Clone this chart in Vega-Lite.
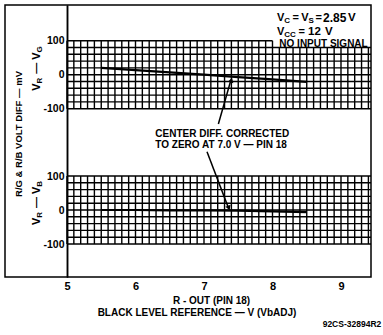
{
  "$schema": "https://vega.github.io/schema/vega-lite/v6.json",
  "width": 366,
  "height": 272,
  "autosize": {"type": "none"},
  "padding": {"left": 5, "top": 5, "right": 12, "bottom": 58},
  "background": "white",
  "data": {"values": [{"note": 1}]},
  "config": {
    "font": "Liberation Sans",
    "view": {"stroke": "#000", "strokeWidth": 1.5},
    "text": {"fontWeight": "bold", "color": "#000", "fontSize": 10, "baseline": "middle", "align": "left"}
  },
  "datasets": {
    "gridCols": [
      {"v": 5.0, "lo": -100, "top_rg": 100, "top_rb": 100}, {"v": 5.1, "lo": -100, "top_rg": 100, "top_rb": 100},
      {"v": 5.2, "lo": -100, "top_rg": 100, "top_rb": 100}, {"v": 5.3, "lo": -100, "top_rg": 100, "top_rb": 100},
      {"v": 5.4, "lo": -100, "top_rg": 100, "top_rb": 100}, {"v": 5.5, "lo": -100, "top_rg": 100, "top_rb": 100},
      {"v": 5.6, "lo": -100, "top_rg": 100, "top_rb": 100}, {"v": 5.7, "lo": -100, "top_rg": 100, "top_rb": 100},
      {"v": 5.8, "lo": -100, "top_rg": 100, "top_rb": 100}, {"v": 5.9, "lo": -100, "top_rg": 100, "top_rb": 100},
      {"v": 6.0, "lo": -100, "top_rg": 100, "top_rb": 100}, {"v": 6.1, "lo": -100, "top_rg": 100, "top_rb": 100},
      {"v": 6.2, "lo": -100, "top_rg": 100, "top_rb": 100}, {"v": 6.3, "lo": -100, "top_rg": 100, "top_rb": 100},
      {"v": 6.4, "lo": -100, "top_rg": 100, "top_rb": 100}, {"v": 6.5, "lo": -100, "top_rg": 100, "top_rb": 100},
      {"v": 6.6, "lo": -100, "top_rg": 100, "top_rb": 100}, {"v": 6.7, "lo": -100, "top_rg": 100, "top_rb": 100},
      {"v": 6.8, "lo": -100, "top_rg": 100, "top_rb": 100}, {"v": 6.9, "lo": -100, "top_rg": 100, "top_rb": 100},
      {"v": 7.0, "lo": -100, "top_rg": 100, "top_rb": 100}, {"v": 7.1, "lo": -100, "top_rg": 100, "top_rb": 100},
      {"v": 7.2, "lo": -100, "top_rg": 100, "top_rb": 100}, {"v": 7.3, "lo": -100, "top_rg": 100, "top_rb": 100},
      {"v": 7.4, "lo": -100, "top_rg": 100, "top_rb": 100}, {"v": 7.5, "lo": -100, "top_rg": 100, "top_rb": 100},
      {"v": 7.6, "lo": -100, "top_rg": 100, "top_rb": 100}, {"v": 7.7, "lo": -100, "top_rg": 100, "top_rb": 100},
      {"v": 7.8, "lo": -100, "top_rg": 100, "top_rb": 100}, {"v": 7.9, "lo": -100, "top_rg": 100, "top_rb": 100},
      {"v": 8.0, "lo": -100, "top_rg": 100, "top_rb": 100}, {"v": 8.1, "lo": -100, "top_rg": 80, "top_rb": 100},
      {"v": 8.2, "lo": -100, "top_rg": 80, "top_rb": 100}, {"v": 8.3, "lo": -100, "top_rg": 80, "top_rb": 100},
      {"v": 8.4, "lo": -100, "top_rg": 80, "top_rb": 100}, {"v": 8.5, "lo": -100, "top_rg": 80, "top_rb": 100},
      {"v": 8.6, "lo": -100, "top_rg": 80, "top_rb": 100}, {"v": 8.7, "lo": -100, "top_rg": 80, "top_rb": 100},
      {"v": 8.8, "lo": -100, "top_rg": 80, "top_rb": 100}, {"v": 8.9, "lo": -100, "top_rg": 80, "top_rb": 100},
      {"v": 9.0, "lo": -100, "top_rg": 80, "top_rb": 100}, {"v": 9.1, "lo": -100, "top_rg": 80, "top_rb": 100},
      {"v": 9.2, "lo": -100, "top_rg": 80, "top_rb": 100}, {"v": 9.3, "lo": -100, "top_rg": 80, "top_rb": 100},
      {"v": 9.4, "lo": -100, "top_rg": 80, "top_rb": 100}
    ],
    "gridRows": [
      {"mv": -100, "start": 5, "end_rg": 9.438, "end_rb": 9.438}, {"mv": -80, "start": 5, "end_rg": 9.438, "end_rb": 9.438},
      {"mv": -60, "start": 5, "end_rg": 9.438, "end_rb": 9.438}, {"mv": -40, "start": 5, "end_rg": 9.438, "end_rb": 9.438},
      {"mv": -20, "start": 5, "end_rg": 9.438, "end_rb": 9.438}, {"mv": 0, "start": 5, "end_rg": 9.438, "end_rb": 9.438},
      {"mv": 20, "start": 5, "end_rg": 9.438, "end_rb": 9.438}, {"mv": 40, "start": 5, "end_rg": 9.438, "end_rb": 9.438},
      {"mv": 60, "start": 5, "end_rg": 9.438, "end_rb": 9.438}, {"mv": 80, "start": 5, "end_rg": 9.438, "end_rb": 9.438},
      {"mv": 100, "start": 5, "end_rg": 8.0, "end_rb": 9.438}
    ],
    "curves": [
      {"panel": "VR-VG", "v": 5.5, "mv": 20}, {"panel": "VR-VG", "v": 6.0, "mv": 13.5}, {"panel": "VR-VG", "v": 6.5, "mv": 6.8},
      {"panel": "VR-VG", "v": 7.0, "mv": 0}, {"panel": "VR-VG", "v": 7.5, "mv": -7}, {"panel": "VR-VG", "v": 8.0, "mv": -14},
      {"panel": "VR-VG", "v": 8.5, "mv": -21},
      {"panel": "VR-VB", "v": 5.5, "mv": 0}, {"panel": "VR-VB", "v": 6.0, "mv": 0}, {"panel": "VR-VB", "v": 6.5, "mv": -1},
      {"panel": "VR-VB", "v": 7.0, "mv": -1}, {"panel": "VR-VB", "v": 7.5, "mv": -2}, {"panel": "VR-VB", "v": 8.0, "mv": -4},
      {"panel": "VR-VB", "v": 8.5, "mv": -6}
    ]
  },
  "layer": [
    {
      "layer": [
        {
          "data": {"name": "gridCols"},
          "mark": {"type": "rule", "color": "#000", "strokeWidth": 1.4},
          "encoding": {
            "x": {
              "field": "v", "type": "quantitative",
              "scale": {"domain": [4.095, 9.438], "nice": false, "zero": false},
              "axis": {
                "values": [5, 6, 7, 8, 9], "format": "d", "ticks": false, "domain": false, "grid": false,
                "labelFontSize": 11, "labelFontWeight": "bold", "labelColor": "#000", "labelPadding": 3, "labelFlush": false,
                "title": "R - OUT (PIN 18)", "titleX": 206, "titleY": 23, "titleAlign": "center", "titleBaseline": "middle",
                "titleFontSize": 10, "titleFontWeight": "bold", "titleColor": "#000"
              }
            },
            "y": {
              "field": "lo", "type": "quantitative",
              "scale": {"domain": [-595, 205], "nice": false, "zero": false},
              "axis": {
                "orient": "left", "offset": -62, "values": [-100, 0, 100], "ticks": false, "grid": false,
                "domain": true, "domainColor": "#000", "domainWidth": 1.5,
                "labelFontSize": 10.5, "labelFontWeight": "bold", "labelColor": "#000", "labelPadding": 3,
                "labelExpr": "replace(datum.label, '−', '-')", "title": null
              }
            },
            "y2": {"field": "top_rg"}
          }
        },
        {
          "data": {"name": "gridRows"},
          "mark": {"type": "rule", "color": "#000", "strokeWidth": 1.4},
          "encoding": {
            "y": {"field": "mv", "type": "quantitative", "scale": {"domain": [-595, 205], "nice": false, "zero": false}},
            "x": {"field": "start", "type": "quantitative"},
            "x2": {"field": "end_rg"}
          }
        },
        {
          "data": {"name": "curves"},
          "transform": [{"filter": "datum.panel === 'VR-VG'"}],
          "mark": {"type": "line", "color": "#000", "strokeWidth": 2.2},
          "encoding": {
            "x": {"field": "v", "type": "quantitative"},
            "y": {"field": "mv", "type": "quantitative", "scale": {"domain": [-595, 205], "nice": false, "zero": false}}
          }
        },
        {
          "mark": {"type": "rule", "color": "#000", "strokeWidth": 1.5},
          "encoding": {
            "x": {"datum": 7.21, "type": "quantitative"},
            "y": {"datum": -145, "type": "quantitative"},
            "x2": {"datum": 7.39},
            "y2": {"datum": -18}
          }
        },
        {
          "mark": {"type": "point", "shape": "triangle", "filled": true, "size": 30, "angle": 17, "color": "#000", "opacity": 1},
          "encoding": {"x": {"datum": 7.396, "type": "quantitative"}, "y": {"datum": -18.2, "type": "quantitative"}}
        },
        {
          "mark": {"type": "text", "text": "CENTER DIFF.  CORRECTED"},
          "encoding": {"x": {"datum": 6.29, "type": "quantitative"}, "y": {"datum": -174.4, "type": "quantitative"}}
        },
        {
          "mark": {"type": "text", "text": "TO ZERO AT  7.0 V — PIN 18"},
          "encoding": {"x": {"datum": 6.29, "type": "quantitative"}, "y": {"datum": -205.3, "type": "quantitative"}}
        },
        {"mark": {"type": "text", "text": "V", "fontSize": 11, "dx": 0},
         "encoding": {"x": {"datum": 8.066, "type": "quantitative"}, "y": {"datum": 165.9, "type": "quantitative"}}},
        {"mark": {"type": "text", "text": "C", "fontSize": 8, "dx": 7.3, "dy": 3},
         "encoding": {"x": {"datum": 8.066, "type": "quantitative"}, "y": {"datum": 165.9, "type": "quantitative"}}},
        {"mark": {"type": "text", "text": "=", "fontSize": 11, "dx": 15.6},
         "encoding": {"x": {"datum": 8.066, "type": "quantitative"}, "y": {"datum": 165.9, "type": "quantitative"}}},
        {"mark": {"type": "text", "text": "V", "fontSize": 11, "dx": 24.3},
         "encoding": {"x": {"datum": 8.066, "type": "quantitative"}, "y": {"datum": 165.9, "type": "quantitative"}}},
        {"mark": {"type": "text", "text": "S", "fontSize": 8, "dx": 31.4, "dy": 3},
         "encoding": {"x": {"datum": 8.066, "type": "quantitative"}, "y": {"datum": 165.9, "type": "quantitative"}}},
        {"mark": {"type": "text", "text": "=", "fontSize": 11, "dx": 38.6},
         "encoding": {"x": {"datum": 8.066, "type": "quantitative"}, "y": {"datum": 165.9, "type": "quantitative"}}},
        {"mark": {"type": "text", "text": "2.85", "fontSize": 12, "dx": 46},
         "encoding": {"x": {"datum": 8.066, "type": "quantitative"}, "y": {"datum": 165.9, "type": "quantitative"}}},
        {"mark": {"type": "text", "text": "V", "fontSize": 11.5, "dx": 71},
         "encoding": {"x": {"datum": 8.066, "type": "quantitative"}, "y": {"datum": 165.9, "type": "quantitative"}}},
        {"mark": {"type": "text", "text": "V", "fontSize": 11, "dx": 0},
         "encoding": {"x": {"datum": 8.066, "type": "quantitative"}, "y": {"datum": 126.5, "type": "quantitative"}}},
        {"mark": {"type": "text", "text": "CC", "fontSize": 8, "dx": 7.3, "dy": 3},
         "encoding": {"x": {"datum": 8.066, "type": "quantitative"}, "y": {"datum": 126.5, "type": "quantitative"}}},
        {"mark": {"type": "text", "text": "=", "fontSize": 11, "dx": 21.5},
         "encoding": {"x": {"datum": 8.066, "type": "quantitative"}, "y": {"datum": 126.5, "type": "quantitative"}}},
        {"mark": {"type": "text", "text": "12", "fontSize": 11.5, "dx": 31},
         "encoding": {"x": {"datum": 8.066, "type": "quantitative"}, "y": {"datum": 126.5, "type": "quantitative"}}},
        {"mark": {"type": "text", "text": "V", "fontSize": 11.5, "dx": 48},
         "encoding": {"x": {"datum": 8.066, "type": "quantitative"}, "y": {"datum": 126.5, "type": "quantitative"}}},
        {
          "mark": {"type": "text", "text": "NO INPUT SIGNAL"},
          "encoding": {"x": {"datum": 8.1, "type": "quantitative"}, "y": {"datum": 89.4, "type": "quantitative"}}
        },
        {"mark": {"type": "text", "text": "V", "fontSize": 11, "angle": 270, "dx": 0},
         "encoding": {"x": {"datum": 4.562, "type": "quantitative"}, "y": {"datum": -47.4, "type": "quantitative"}}},
        {"mark": {"type": "text", "text": "R", "fontSize": 8, "angle": 270, "dx": 7.3, "dy": 3},
         "encoding": {"x": {"datum": 4.562, "type": "quantitative"}, "y": {"datum": -47.4, "type": "quantitative"}}},
        {"mark": {"type": "text", "text": "—", "fontSize": 11, "angle": 270, "dx": 17},
         "encoding": {"x": {"datum": 4.562, "type": "quantitative"}, "y": {"datum": -47.4, "type": "quantitative"}}},
        {"mark": {"type": "text", "text": "V", "fontSize": 11, "angle": 270, "dx": 31},
         "encoding": {"x": {"datum": 4.562, "type": "quantitative"}, "y": {"datum": -47.4, "type": "quantitative"}}},
        {"mark": {"type": "text", "text": "G", "fontSize": 8, "angle": 270, "dx": 38.3, "dy": 3},
         "encoding": {"x": {"datum": 4.562, "type": "quantitative"}, "y": {"datum": -47.4, "type": "quantitative"}}},
        {
          "mark": {"type": "text", "text": "R/G & R/B VOLT DIFF — mV", "align": "center", "angle": 270, "fontSize": 9.5},
          "encoding": {"x": {"datum": 4.293, "type": "quantitative"}, "y": {"datum": -174.4, "type": "quantitative"}}
        },
        {
          "mark": {"type": "text", "text": "BLACK LEVEL REFERENCE — V (VbADJ)", "align": "center"},
          "encoding": {"x": {"datum": 6.898, "type": "quantitative"}, "y": {"datum": -701.8, "type": "quantitative"}}
        },
        {
          "mark": {"type": "text", "text": "92CS-32894R2", "align": "right", "fontSize": 8.5},
          "encoding": {"x": {"datum": 9.588, "type": "quantitative"}, "y": {"datum": -734.1, "type": "quantitative"}}
        }
      ]
    },
    {
      "layer": [
        {
          "data": {"name": "gridCols"},
          "mark": {"type": "rule", "color": "#000", "strokeWidth": 1.4},
          "encoding": {
            "x": {"field": "v", "type": "quantitative"},
            "y": {
              "field": "lo", "type": "quantitative",
              "scale": {"domain": [-197, 603], "nice": false, "zero": false},
              "axis": {
                "orient": "left", "offset": -62, "values": [-100, 0, 100], "ticks": false, "grid": false,
                "domain": true, "domainColor": "#000", "domainWidth": 1.5,
                "labelFontSize": 10.5, "labelFontWeight": "bold", "labelColor": "#000", "labelPadding": 3,
                "labelExpr": "replace(datum.label, '−', '-')", "title": null
              }
            },
            "y2": {"field": "top_rb"}
          }
        },
        {
          "data": {"name": "gridRows"},
          "mark": {"type": "rule", "color": "#000", "strokeWidth": 1.4},
          "encoding": {
            "y": {"field": "mv", "type": "quantitative", "scale": {"domain": [-197, 603], "nice": false, "zero": false}},
            "x": {"field": "start", "type": "quantitative"},
            "x2": {"field": "end_rb"}
          }
        },
        {
          "data": {"name": "curves"},
          "transform": [{"filter": "datum.panel === 'VR-VB'"}],
          "mark": {"type": "line", "color": "#000", "strokeWidth": 2.2},
          "encoding": {
            "x": {"field": "v", "type": "quantitative"},
            "y": {"field": "mv", "type": "quantitative", "scale": {"domain": [-197, 603], "nice": false, "zero": false}}
          }
        },
        {
          "mark": {"type": "rule", "color": "#000", "strokeWidth": 1.5},
          "encoding": {
            "x": {"datum": 7.044, "type": "quantitative"},
            "y": {"datum": 171.5, "type": "quantitative"},
            "x2": {"datum": 7.35},
            "y2": {"datum": 10}
          }
        },
        {
          "mark": {"type": "point", "shape": "triangle", "filled": true, "size": 30, "angle": 159, "color": "#000", "opacity": 1},
          "encoding": {"x": {"datum": 7.358, "type": "quantitative"}, "y": {"datum": 8.3, "type": "quantitative"}}
        },
        {"mark": {"type": "text", "text": "V", "fontSize": 11, "angle": 270, "dx": 0},
         "encoding": {"x": {"datum": 4.562, "type": "quantitative"}, "y": {"datum": -44, "type": "quantitative"}}},
        {"mark": {"type": "text", "text": "R", "fontSize": 8, "angle": 270, "dx": 7.3, "dy": 3},
         "encoding": {"x": {"datum": 4.562, "type": "quantitative"}, "y": {"datum": -44, "type": "quantitative"}}},
        {"mark": {"type": "text", "text": "—", "fontSize": 11, "angle": 270, "dx": 17},
         "encoding": {"x": {"datum": 4.562, "type": "quantitative"}, "y": {"datum": -44, "type": "quantitative"}}},
        {"mark": {"type": "text", "text": "V", "fontSize": 11, "angle": 270, "dx": 31},
         "encoding": {"x": {"datum": 4.562, "type": "quantitative"}, "y": {"datum": -44, "type": "quantitative"}}},
        {"mark": {"type": "text", "text": "B", "fontSize": 8, "angle": 270, "dx": 38.3, "dy": 3},
         "encoding": {"x": {"datum": 4.562, "type": "quantitative"}, "y": {"datum": -44, "type": "quantitative"}}}
      ]
    }
  ],
  "resolve": {"scale": {"y": "independent"}, "axis": {"y": "independent"}}
}
